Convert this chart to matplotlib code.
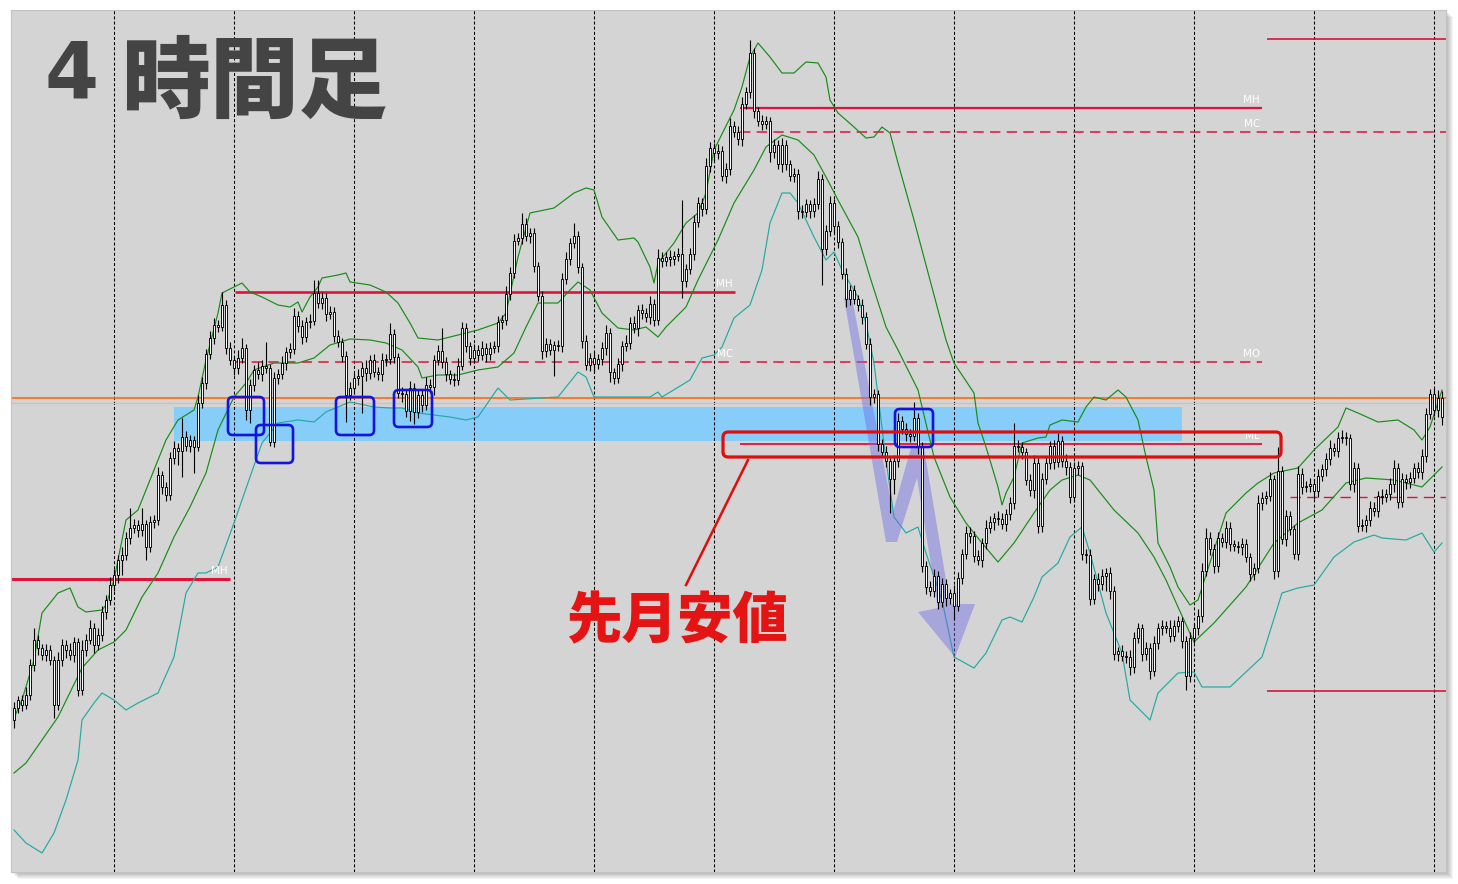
import numpy as np
import matplotlib.pyplot as plt
from matplotlib.patches import FancyBboxPatch, Polygon, Rectangle

plt.rcParams['lines.scale_dashes'] = False
plt.rcParams['font.family'] = ['Noto Sans CJK JP', 'DejaVu Sans']

# ---- 4h candles (price in pips, open of each bar = previous close) ----
first_open = 280
close = [
    292, 300, 295, 305, 335, 360, 352, 345, 350, 340,
    295, 340, 355, 350, 345, 358, 310, 350, 360, 372,
    355, 365, 388, 400, 415, 425, 440, 445, 462, 472,
    475, 470, 476, 453, 478, 480, 525, 513, 505, 542,
    552, 549, 563, 554, 560, 553, 597, 617, 646, 662,
    675, 673, 695, 652, 640, 632, 642, 652, 590, 615,
    630, 626, 634, 632, 558, 622, 626, 637, 648, 651,
    684, 674, 663, 678, 679, 707, 697, 702, 686, 688,
    664, 658, 644, 605, 612, 622, 624, 632, 627, 640,
    628, 626, 640, 641, 666, 643, 607, 606, 589, 612,
    588, 605, 595, 615, 613, 640, 649, 638, 626, 621,
    620, 634, 672, 654, 642, 650, 645, 652, 646, 652,
    654, 678, 680, 706, 727, 759, 762, 776, 764, 767,
    734, 704, 649, 656, 650, 655, 654, 721, 741, 757,
    764, 733, 659, 635, 642, 636, 641, 652, 667, 628,
    622, 636, 654, 657, 677, 672, 690, 687, 683, 696,
    680, 742, 739, 743, 741, 744, 746, 719, 731, 746,
    778, 797, 791, 834, 852, 847, 849, 824, 831, 874,
    868, 861, 896, 908, 947, 889, 879, 876, 879, 848,
    855, 836, 855, 836, 824, 826, 789, 788, 796, 789,
    796, 821, 751, 769, 797, 774, 758, 726, 701, 710,
    701, 695, 683, 656, 603, 606, 556, 548, 539, 521,
    539, 579, 571, 566, 564, 582, 554, 434, 413, 409,
    424, 398, 416, 402, 407, 394, 422, 446, 467, 464,
    444, 440, 457, 472, 478, 482, 481, 476, 486, 497,
    554, 553, 548, 520, 510, 537, 474, 521, 537, 554,
    538, 559, 539, 533, 503, 532, 534, 446, 445, 401,
    421, 416, 424, 427, 409, 346, 349, 344, 343, 333,
    362, 372, 346, 352, 329, 357, 372, 374, 372, 364,
    374, 379, 359, 324, 362, 372, 384, 429, 462, 451,
    434, 462, 458, 472, 456, 454, 453, 456, 443, 426,
    432, 497, 502, 504, 521, 429, 529, 461, 484, 471,
    446, 526, 513, 514, 516, 509, 524, 531, 541, 552,
    549, 562, 563, 562, 516, 532, 474, 475, 480, 492,
    489, 504, 503, 506, 516, 532, 498, 521, 518, 522,
    532, 528, 544, 586, 606, 590, 602, 583,
]
wick_up = [
    6, 4, 5, 8, 6, 12, 5, 4, 6, 5,
    4, 8, 6, 5, 7, 5, 4, 10, 6, 8,
    5, 7, 6, 5, 8, 6, 5, 8, 6, 20,
    6, 5, 16, 4, 6, 5, 8, 4, 5, 6,
    7, 5, 19, 6, 5, 4, 8, 6, 5, 7,
    7, 5, 13, 5, 6, 4, 8, 10, 4, 6,
    5, 8, 6, 24, 4, 6, 5, 7, 5, 6,
    8, 5, 6, 5, 7, 13, 13, 6, 5, 6,
    5, 6, 4, 5, 6, 5, 7, 6, 8, 5,
    6, 5, 7, 5, 11, 5, 4, 6, 5, 7,
    5, 6, 5, 8, 6, 5, 6, 23, 5, 4,
    6, 8, 6, 5, 4, 6, 5, 7, 5, 6,
    5, 6, 5, 8, 6, 7, 5, 11, 6, 5,
    5, 4, 5, 6, 5, 4, 5, 6, 7, 5,
    13, 5, 4, 6, 5, 7, 5, 6, 8, 5,
    4, 6, 5, 8, 6, 7, 5, 6, 5, 8,
    5, 9, 6, 5, 7, 5, 6, 54, 5, 6,
    7, 6, 5, 8, 6, 5, 7, 5, 6, 8,
    5, 6, 7, 5, 13, 5, 4, 6, 5, 4,
    6, 5, 7, 5, 4, 6, 5, 6, 5, 4,
    6, 8, 5, 6, 7, 4, 5, 4, 6, 5,
    5, 4, 6, 5, 6, 5, 4, 5, 6, 5,
    6, 8, 5, 6, 5, 16, 5, 4, 5, 6,
    7, 5, 6, 5, 4, 8, 6, 5, 7, 6,
    5, 6, 5, 8, 6, 5, 7, 6, 5, 6,
    23, 6, 5, 4, 6, 8, 5, 6, 7, 5,
    6, 8, 5, 7, 5, 6, 5, 4, 5, 6,
    5, 6, 7, 5, 6, 5, 4, 6, 5, 7,
    6, 5, 4, 6, 5, 7, 5, 6, 5, 8,
    6, 5, 4, 5, 6, 5, 7, 8, 10, 6,
    5, 6, 5, 7, 6, 4, 5, 6, 5, 4,
    5, 8, 6, 5, 7, 4, 24, 5, 6, 5,
    4, 8, 6, 5, 6, 5, 7, 5, 6, 8,
    5, 6, 7, 5, 4, 6, 5, 6, 5, 7,
    6, 5, 7, 5, 6, 8, 5, 6, 5, 6,
    5, 6, 7, 6, 5, 6, 8, 7,
]
wick_dn = [
    8, 5, 6, 4, 5, 6, 7, 5, 6, 5,
    13, 5, 6, 8, 5, 7, 6, 5, 6, 4,
    8, 5, 6, 7, 5, 6, 8, 15, 5, 6,
    5, 7, 6, 13, 5, 6, 5, 7, 6, 5,
    6, 14, 26, 5, 6, 26, 4, 5, 6, 5,
    6, 5, 4, 6, 5, 7, 6, 5, 10, 13,
    6, 5, 7, 5, 4, 5, 6, 5, 7, 6,
    5, 6, 7, 5, 6, 4, 5, 6, 7, 5,
    6, 5, 6, 27, 5, 6, 7, 37, 8, 6,
    5, 6, 7, 6, 5, 6, 5, 8, 6, 10,
    12, 6, 7, 5, 6, 8, 5, 6, 7, 5,
    6, 5, 4, 6, 7, 5, 6, 5, 8, 6,
    5, 6, 7, 5, 6, 5, 4, 6, 5, 7,
    6, 5, 8, 6, 5, 26, 5, 6, 5, 6,
    5, 6, 7, 5, 6, 8, 5, 6, 7, 10,
    6, 5, 7, 5, 6, 5, 8, 6, 5, 7,
    6, 5, 6, 5, 7, 6, 5, 17, 6, 5,
    6, 5, 7, 5, 6, 8, 6, 5, 7, 6,
    5, 6, 7, 5, 6, 7, 5, 6, 5, 10,
    6, 5, 8, 6, 5, 6, 8, 6, 5, 7,
    6, 5, 36, 6, 5, 7, 6, 5, 8, 6,
    5, 6, 7, 5, 8, 6, 7, 5, 6, 34,
    15, 6, 5, 7, 6, 5, 8, 6, 7, 5,
    6, 7, 5, 8, 6, 14, 5, 6, 5, 7,
    6, 5, 7, 6, 5, 8, 6, 5, 7, 6,
    6, 5, 7, 5, 6, 8, 7, 6, 5, 6,
    7, 5, 6, 8, 6, 5, 7, 6, 8, 6,
    5, 7, 6, 15, 8, 6, 7, 5, 6, 8,
    6, 5, 7, 6, 8, 5, 6, 7, 5, 6,
    5, 6, 7, 14, 6, 5, 7, 6, 5, 6,
    7, 6, 5, 6, 7, 5, 6, 8, 5, 7,
    6, 5, 7, 6, 5, 8, 6, 5, 7, 6,
    5, 6, 7, 5, 6, 8, 6, 5, 7, 6,
    5, 6, 5, 7, 6, 8, 6, 5, 7, 6,
    5, 6, 7, 5, 6, 8, 6, 5, 7, 6,
    5, 6, 7, 6, 5, 6, 7, 8,
]

# ---- Bollinger bands: (bar index, price) ----
upper_band = [
    (0, 282), (2, 300), (5, 340), (7, 387), (8, 392), (11, 407), (14, 412), (16, 393),
    (18, 388), (22, 390), (23, 395), (25, 420), (28, 480), (31, 490), (34, 520), (38, 560),
    (41, 580), (45, 590), (46, 603), (48, 640), (51, 687), (52, 707), (55, 713), (57, 717),
    (59, 708), (62, 703), (66, 695), (69, 693), (71, 698), (72, 688), (74, 703), (76, 713),
    (77, 722), (81, 725), (83, 727), (84, 718), (89, 715), (93, 708), (96, 697), (99, 677),
    (101, 662), (106, 660), (109, 663), (113, 667), (116, 670), (121, 677), (123, 687),
    (126, 743), (129, 787), (135, 792), (140, 807), (143, 812), (145, 810), (147, 783),
    (151, 760), (155, 762), (156, 758), (159, 733), (160, 717), (161, 737), (165, 757),
    (168, 777), (171, 787), (173, 807), (175, 850), (180, 890), (182, 913), (184, 943),
    (186, 957), (189, 943), (192, 927), (195, 927), (198, 938), (201, 937), (203, 923),
    (204, 900), (206, 887), (210, 873), (213, 862), (215, 863), (217, 873), (219, 867),
    (221, 837), (225, 780), (229, 720), (233, 660), (235, 637), (240, 607), (241, 577),
    (243, 553), (246, 513), (247, 495), (248, 507), (250, 523), (252, 557), (256, 562),
    (258, 563), (259, 575), (262, 580), (266, 578), (268, 593), (270, 603), (273, 600),
    (276, 610), (278, 603), (281, 580), (283, 543), (285, 510), (286, 457), (289, 433),
    (291, 413), (294, 395), (296, 400), (300, 450), (303, 487), (308, 507), (311, 517),
    (315, 527), (321, 532), (325, 550), (331, 573), (333, 592), (336, 587), (341, 578),
    (346, 580), (350, 570), (352, 560), (354, 573), (357, 610),
]
middle_band = [
    (0, 227), (3, 237), (7, 260), (11, 283), (17, 332), (21, 350), (25, 358), (28, 370),
    (32, 403), (36, 427), (40, 463), (44, 493), (48, 527), (51, 570), (55, 603), (58, 617),
    (60, 630), (65, 637), (71, 637), (75, 642), (79, 655), (84, 661), (89, 660), (93, 657),
    (97, 650), (101, 633), (102, 622), (106, 625), (111, 625), (114, 628), (116, 630),
    (121, 633), (125, 647), (128, 673), (131, 697), (136, 697), (139, 710), (141, 718),
    (144, 710), (147, 687), (151, 672), (155, 670), (158, 673), (161, 663), (163, 673),
    (168, 693), (171, 720), (176, 760), (180, 797), (185, 830), (188, 853), (192, 865),
    (196, 860), (200, 845), (203, 823), (206, 800), (211, 763), (214, 723), (218, 673),
    (221, 650), (226, 610), (230, 543), (234, 503), (238, 477), (242, 457), (246, 438),
    (250, 457), (255, 487), (259, 510), (262, 520), (266, 525), (269, 520), (275, 490),
    (281, 467), (285, 443), (288, 420), (291, 393), (295, 358), (300, 377), (308, 413),
    (315, 457), (321, 477), (327, 490), (333, 517), (338, 522), (345, 520), (352, 513),
    (357, 533),
]
lower_band = [
    (0, 170), (3, 157), (7, 147), (10, 167), (13, 200), (16, 240), (17, 280), (20, 297),
    (22, 307), (25, 300), (28, 290), (31, 297), (36, 307), (40, 343), (43, 407), (46, 427),
    (48, 427), (51, 433), (55, 477), (59, 523), (62, 557), (66, 577), (71, 580), (75, 578),
    (78, 588), (81, 593), (84, 598), (90, 593), (94, 592), (97, 592), (101, 587), (105, 585),
    (109, 583), (113, 580), (116, 583), (121, 612), (124, 600), (136, 603), (141, 628),
    (143, 623), (145, 603), (159, 603), (161, 608), (162, 603), (169, 620), (172, 642),
    (175, 645), (177, 653), (180, 682), (184, 695), (187, 730), (189, 777), (192, 807),
    (194, 807), (196, 797), (198, 780), (200, 763), (203, 740), (205, 748), (207, 730),
    (211, 703), (213, 677), (215, 637), (218, 540), (220, 483), (223, 467), (226, 473),
    (228, 447), (232, 400), (235, 343), (240, 332), (243, 347), (247, 380), (249, 383),
    (252, 378), (255, 403), (257, 423), (261, 437), (264, 463), (267, 473), (269, 447),
    (273, 387), (277, 347), (279, 300), (284, 280), (286, 307), (291, 327), (295, 328),
    (297, 313), (304, 313), (312, 343), (317, 407), (321, 412), (325, 415), (330, 443),
    (335, 458), (340, 465), (342, 462), (348, 460), (352, 467), (355, 448), (357, 457),
]

# ---- monthly levels ----
level_name = ['MH', 'MH', 'MC', 'MH', 'MC', 'MO', 'ML', '', '', '']
level_price = [421, 708, 638, 892, 868, 638, 556, 961, 309, 503]
level_from = [-0.75, 55.25, 55.25, 181.5, 181.5, 181.5, 181.5, 313.25, 313.25, 319]
level_to = [54, 180.25, 180.25, 312, 358, 312, 312, 358, 358, 358]
level_label_at = [54, 180.25, 180.25, 312, 312, 312, 312, None, None, None]
level_dashed = [False, False, True, False, True, True, False, False, False, True]
level_lw = [2.2, 1.9, 1.1, 1.6, 1.1, 1.1, 1.3, 1.2, 1.2, 1.0]

orange_level = 602
grey_level = 597.5
week_start = [25, 55, 85, 115, 145, 175, 205, 235, 265, 295, 325, 355]

support_zone = (40, 292, 559, 593)       # bar from, bar to, price low, price high
marked_boxes = [(53.5, 62.5, 565, 603), (60.5, 69.75, 537, 575), (80.5, 90, 565, 603),
                (95, 104.5, 573, 610), (220.25, 229.75, 553, 591)]
last_month_low_box = (177.25, 316.75, 543, 568)

# ---- figure ----
W, H = 1458, 884
L, R, T, B = 11, 1446, 10, 872
fig = plt.figure(figsize=(W / 100, H / 100), dpi=100)
fig.patch.set_facecolor('white')

for k in range(1, 8):
    fig.add_artist(Rectangle(((L + k) / W, 1 - (B + k) / H), (R - L) / W, (B - T) / H,
                             transform=fig.transFigure, facecolor='black', alpha=0.045,
                             edgecolor='none', zorder=-1))

ax = fig.add_axes([L / W, 1 - B / H, (R - L) / W, (B - T) / H])
ax.set_facecolor('#d4d4d4')
ax.set_xlim(-0.75, 358)
ax.set_ylim(128, 990)
ax.set_xticks([])
ax.set_yticks([])
for s in ax.spines.values():
    s.set_color('#c2c2c2')
    s.set_linewidth(0.8)

idx = np.arange(len(close))
c = np.array(close, dtype=float)
o = np.concatenate([[first_open], c[:-1]])
top = np.maximum(o, c)
bot = np.minimum(o, c)
hi = top + np.array(wick_up)
lo = bot - np.array(wick_dn)

# zone
z0, z1, zl, zh = support_zone
ax.add_patch(Rectangle((z0, zl), z1 - z0, zh - zl, facecolor='#87cdf9', edgecolor='none', zorder=1))

# separators
for w in week_start:
    ax.axvline(w, color='black', lw=0.75, dashes=(2.2, 1.5), zorder=2)

ax.axhline(grey_level, color='#c4c4c4', lw=0.9, zorder=2)
ax.axhline(orange_level, color='#ff6a10', lw=1.2, zorder=2.1)

# levels
for name, p, a, b, lab, dsh, lw in zip(level_name, level_price, level_from, level_to,
                                       level_label_at, level_dashed, level_lw):
    if dsh:
        ax.plot([a, b], [p, p], color='#dc143c', lw=lw, dashes=(7.5, 4.5), zorder=2.2)
    else:
        ax.plot([a, b], [p, p], color='#dc143c', lw=lw, solid_capstyle='butt', zorder=2.2)
    if lab is not None:
        ax.text(lab - 0.5, p + 3, name, color='white', fontsize=7.5, family='DejaVu Sans',
                ha='right', va='bottom', zorder=6)

# bands
for band, col in [(upper_band, '#168c16'), (middle_band, '#168c16'), (lower_band, '#22aaa0')]:
    bx, by = zip(*band)
    ax.plot(bx, by, color=col, lw=0.85, zorder=3)

# arrow
arrow = [(207.5, 702), (218, 458), (220.75, 458), (225.75, 522), (231, 392), (226, 388),
         (235.25, 343), (240.25, 396), (234, 396), (227.5, 552), (224.25, 552),
         (219.75, 488), (209.5, 702)]
ax.add_patch(Polygon(arrow, closed=True, facecolor='#6e6ee6', alpha=0.45, edgecolor='none', zorder=3.5))

# candles
ax.vlines(idx, lo, hi, colors='black', linewidth=0.8, zorder=3.9)
h = np.maximum(top - bot, 0.8)
ax.bar(idx, h, bottom=bot, width=0.62, color='white', edgecolor='black', linewidth=0.65, zorder=4)

# annotations
for a, b, p0, p1 in marked_boxes:
    ax.add_patch(FancyBboxPatch((a, p0), b - a, p1 - p0,
                                boxstyle='round,pad=0,rounding_size=1.2', mutation_aspect=4,
                                facecolor='none', edgecolor='#1414e0', lw=1.9, zorder=6))
a, b, p0, p1 = last_month_low_box
ax.add_patch(FancyBboxPatch((a, p0), b - a, p1 - p0,
                            boxstyle='round,pad=0,rounding_size=1.3', mutation_aspect=4,
                            facecolor='none', edgecolor='#e00d0d', lw=2.3, zorder=6))
ax.plot([183.5, 168], [540, 415], color='#e00d0d', lw=1.8, zorder=6)
ax.text(165.75, 362, '先月安値', color='#e41414', fontsize=40, fontweight='black',
        ha='center', va='baseline', zorder=7)

# title
fig.text(44 / W, 1 - 97 / H, '4', color='#444444', fontsize=56, fontweight='bold',
         family='DejaVu Sans', ha='left', va='baseline', zorder=10)
fig.text(121 / W, 1 - 111 / H, '時間足', color='#444444', fontsize=64, fontweight='black',
         ha='left', va='baseline', zorder=10)

fig.savefig('out.png', dpi=100, facecolor='white')
